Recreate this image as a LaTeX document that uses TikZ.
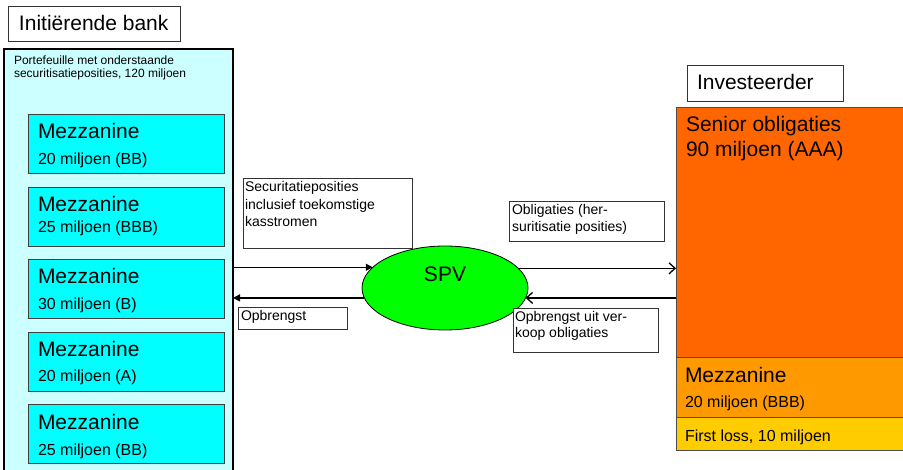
\documentclass[tikz,border=0pt]{standalone}
\usepackage{fontspec}
\setmainfont{Liberation Sans}
\usetikzlibrary{arrows.meta,shapes.geometric}
\definecolor{lcyan}{HTML}{CCFFFF}
\definecolor{cyanbox}{HTML}{00FFFF}
\definecolor{spvgreen}{HTML}{00FF00}
\definecolor{orA}{HTML}{FF6600}
\definecolor{orB}{HTML}{FF9900}
\definecolor{orC}{HTML}{FFCC00}
\begin{document}
\begin{tikzpicture}[x=1pt,y=-1pt,
  bx/.style={rectangle, inner sep=0pt, outer sep=0pt, anchor=north west},
  wbox/.style={bx, draw=black!80, line width=0.8pt, fill=white},
  mbox/.style={bx, draw=black!75, line width=0.9pt, fill=cyanbox, minimum width=196pt, minimum height=59pt},
  obox/.style={bx, draw=black!70, line width=0.9pt, minimum width=232pt},
  txt/.style={anchor=base west, inner sep=0pt, outer sep=0pt},
  f21/.style={font=\fontsize{21}{25}\selectfont},
  f16/.style={font=\fontsize{16}{19}\selectfont},
  f14/.style={font=\fontsize{14}{17}\selectfont},
  f12/.style={font=\fontsize{12}{14}\selectfont},
  arrL/.style={draw=black, line width=1.3pt, -{Triangle[length=7pt,width=7pt]}},
  arrR/.style={draw=black, line width=1.3pt, -{Straight Barb[length=6pt,width=11pt,line width=1.3pt]}}
]
\useasboundingbox (0,0) rectangle (903,470);
\fill[white] (0,0) rectangle (903,470);

% left side
\node[wbox, minimum width=172pt, minimum height=35pt] (tb) at (8,6) {};
\node[txt,f21] (tbt) at (19,31) {Initiërende bank};
\node[bx, draw=black, line width=1.6pt, fill=lcyan, minimum width=229pt, minimum height=425pt] (bank) at (4,49) {};
\node[txt,f12] (pf1) at (14,65) {Portefeuille met onderstaande};
\node[txt,f12] (pf2) at (14,78) {securitisatieposities, 120 miljoen};

\foreach \n/\ty/\o/\lbl in {1/114/51/20 miljoen (BB), 2/187/46/25 miljoen (BBB), 3/259/51/30 miljoen (B), 4/332/50/20 miljoen (A), 5/404/51/25 miljoen (BB)} {
  \node[mbox] (m\n) at (28,\ty) {};
  \node[txt,f21] (m\n a) at (38,\ty+25) {Mezzanine};
  \node[txt,f16] (m\n b) at (38,\ty+\o) {\lbl};
}

% middle
\node[wbox, minimum width=169pt, minimum height=70pt] (sb) at (243,178) {};
\node[txt,f14] (sb1) at (245,192) {Securitatieposities};
\node[txt,f14] (sb2) at (245,210) {inclusief toekomstige};
\node[txt,f14] (sb3) at (245,227) {kasstromen};

\node[wbox, minimum width=109pt, minimum height=22pt] (ob) at (238,307) {};
\node[txt,f14] (obt) at (241,321) {Opbrengst};

\node[ellipse, draw=black, line width=0.8pt, fill=spvgreen, minimum width=166pt, minimum height=84pt, inner sep=0pt, outer sep=0pt] (spv) at (445,288) {};
\node[anchor=base, inner sep=0pt, f21] (spvt) at (445,282) {SPV};

\node[wbox, minimum width=155pt, minimum height=40pt] (lb) at (509,201) {};
\node[txt,f14] (lb1) at (512,215) {Obligaties (her-};
\node[txt,f14] (lb2) at (512,232) {suritisatie posities)};

\node[wbox, minimum width=145pt, minimum height=44pt] (vb) at (513,308) {};
\node[txt,f14] (vb1) at (515,322) {Opbrengst uit ver-};
\node[txt,f14] (vb2) at (515,338) {koop obligaties};

% right side
\node[wbox, minimum width=156pt, minimum height=36pt] (ib) at (687,65) {};
\node[txt,f21] (ibt) at (697,90) {Investeerder};
\node[obox, fill=orA, minimum height=250pt] (inv) at (676,107) {};
\node[txt,f21] (inv1) at (686,132) {Senior obligaties};
\node[txt,f21] (inv2) at (686,157) {90 miljoen (AAA)};
\node[obox, fill=orB, minimum height=60pt] (rm) at (676,357) {};
\node[txt,f21] (rm1) at (685,383) {Mezzanine};
\node[txt,f16] (rm2) at (685,408) {20 miljoen (BBB)};
\node[obox, fill=orC, minimum height=33pt] (fl) at (676,417) {};
\node[txt,f16] (flt) at (685,442) {First loss, 10 miljoen};

% connectors
\draw[arrL] (bank.east |- spv.164.7) -- (spv.164.7);
\draw[arrL] (spv.187.07) -- (bank.east |- spv.187.07);
\draw[arrR] (spv.15.3) -- (inv.west |- spv.15.3);
\draw[arrR] (inv.west |- spv.-7.07) -- (spv.-7.07);
\end{tikzpicture}
\end{document}
